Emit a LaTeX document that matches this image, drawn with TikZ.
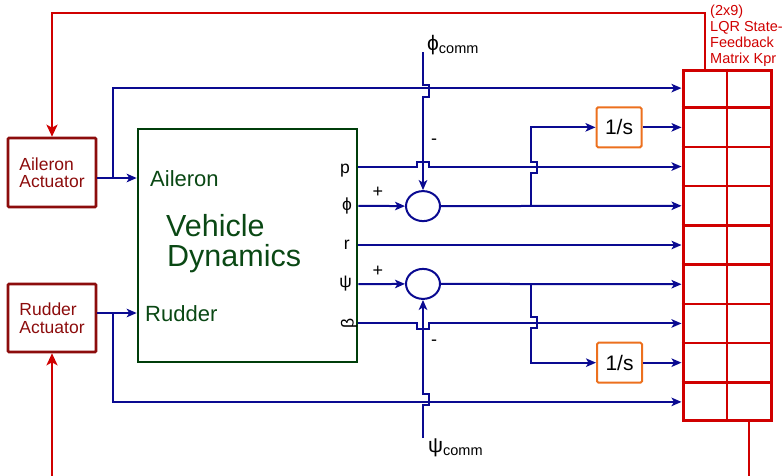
\documentclass[tikz,border=0pt]{standalone}
\usepackage{fontspec}
\setmainfont{Liberation Sans}
\usetikzlibrary{arrows.meta,shapes.geometric,calc}
\definecolor{sigblue}{RGB}{10,10,145}
\definecolor{vgreen}{RGB}{0,62,10}
\definecolor{vtext}{RGB}{10,72,20}
\definecolor{fbred}{RGB}{208,0,0}
\definecolor{actred}{RGB}{140,12,12}
\definecolor{intorange}{RGB}{236,112,30}
\tikzset{
  sig/.style={draw=sigblue, line width=2pt},
  arr/.style={-{Stealth[length=10pt,width=8.5pt,inset=2.5pt]}},
  fb/.style={draw=fbred, line width=2.6pt},
  fbarr/.style={-{Stealth[length=12pt,width=11pt,inset=3pt]}},
  actbox/.style={draw=actred, line width=2.6pt, rounded corners=1pt, minimum width=88pt,
    text=actred, align=left, inner sep=0pt, font=\fontsize{17.5}{17.5}\selectfont},
  intbox/.style={draw=intorange, fill=white, line width=2pt, rounded corners=1.5pt,
    minimum width=45pt, minimum height=40pt, font=\fontsize{21}{21}\selectfont},
  sumnode/.style={ellipse, draw=sigblue, line width=2pt, minimum width=34pt,
    minimum height=30pt, inner sep=0pt},
  lbl/.style={inner sep=0pt, font=\fontsize{17.5}{17.5}\selectfont},
  sgn/.style={inner sep=0pt, font=\fontsize{18}{18}\selectfont},
  vtxt/.style={inner sep=0pt, text=vtext, anchor=base west}
}
\begin{document}
\begin{tikzpicture}[x=1pt,y=-1pt]
\useasboundingbox (0,0) rectangle (784,475);

% ---- blocks
\node[draw=vgreen, line width=2.6pt, minimum width=219pt, minimum height=233pt] (veh) at (247.5,245.5) {};
\node[vtxt, font=\fontsize{22}{22}\selectfont] (vail) at (150,186) {Aileron};
\node[vtxt, font=\fontsize{22}{22}\selectfont] (vrud) at (145,321) {Rudder};
\node[vtxt, font=\fontsize{30.5}{30.5}\selectfont] (vt1) at (166,236) {Vehicle};
\node[vtxt, font=\fontsize{30.5}{30.5}\selectfont] (vt2) at (167,266) {Dynamics};

\node[actbox, minimum height=69pt] (aa) at (52,172.5) {Aileron\\Actuator};
\node[actbox, minimum height=68pt] (ra) at (52,318) {Rudder\\Actuator};

% state-feedback matrix
\node[draw=fbred, line width=3pt, minimum width=88pt, minimum height=350pt, inner sep=0pt] (K) at (727,245) {};
\foreach \i in {1,...,8}
  \draw[draw=fbred, line width=2.6pt] ($(K.north west)!\i/9!(K.south west)$) -- ($(K.north east)!\i/9!(K.south east)$);
\draw[draw=fbred, line width=2.6pt] (K.north) -- (K.south);
\foreach \i in {1,...,9}
  \coordinate (r\i) at ($(K.north west)!{(\i-0.5)/9}!(K.south west)$);
\node[anchor=north west, align=left, inner sep=0pt, text=fbred, font=\fontsize{14.5}{16}\selectfont] (Klbl) at (710,5)
  {(2x9)\\LQR State-\\Feedback\\Matrix Kpr};

% output labels of the vehicle
\node[lbl, anchor=east] (lp) at (350,170.5) {p};
\node[lbl, anchor=east] (lphi) at (352,205.5) {ϕ};
\node[lbl, anchor=east] (lr) at (350,245) {r};
\node[lbl, anchor=east] (lpsi) at (352,283.5) {ψ};
\node[lbl, rotate=90] (lbeta) at (349,323.5) {β};

% summing junctions, integrators
\node[sumnode] (s1) at (423,206.1) {};
\node[sumnode] (s2) at (423,283.9) {};
\path (r2) ++(-62.5,0) node[intbox] (i1) {1/s};
\path (r8) ++(-62,0) node[intbox] (i2) {1/s};

\node[sgn] (p1) at (378,192) {+};
\node[sgn] (p2) at (378,271) {+};
\node[sgn] (m1) at (434,142) {-};
\node[sgn] (m2) at (434,343) {-};

\node[anchor=base west, inner sep=0pt] (phic) at (427,50)
  {\fontsize{21}{21}\selectfont ϕ\raisebox{-3pt}{\fontsize{14.5}{14.5}\selectfont comm}};
\node[anchor=base west, inner sep=0pt] (psic) at (428,452)
  {\fontsize{21}{21}\selectfont ψ\raisebox{-3pt}{\fontsize{14.5}{14.5}\selectfont comm}};

% ---- coordinates
\coordinate (ain) at (veh.west |- 0,178);
\coordinate (rin) at (veh.west |- 0,313);
\coordinate (ja) at (113,178);
\coordinate (jr) at (113,313);
\coordinate (tA) at (531,206.1);
\coordinate (tB) at (531,283.9);
\coordinate (cA) at (423,52);
\coordinate (cB) at (423,438);
\coordinate (fbL) at (52,478);
\coordinate (fbR) at (749,478);

% ---- actuator outputs
\draw[sig,arr] (aa.east |- ain) -- (ain);
\draw[sig,arr] (ra.east |- rin) -- (rin);
\draw[sig,arr] (ja) |- (r1);
\draw[sig,arr] (jr) |- (r9);

% ---- states
\draw[sig,arr] (veh.east |- r3) -- ++(58.5,0) -- ++(0,-5) -- ++(12,0) -- ++(0,5) -- (r3);
\draw[sig,arr] (veh.east |- r4) -- (s1.west);
\draw[sig,arr] (s1.east) -- (r4);
\draw[sig,arr] (veh.east |- r5) -- (r5);
\draw[sig,arr] (veh.east |- r6) -- (s2.west);
\draw[sig,arr] (s2.east) -- (r6);
\draw[sig,arr] (veh.east |- r7) -- ++(58.5,0) -- ++(0,5.5) -- ++(12,0) -- ++(0,-5.5) -- (r7);

% ---- integrator branches
\draw[sig,arr] (tA) -- ++(0,-33) -- ++(6,0) -- ++(0,-11) -- ++(-6,0) |- (i1.west);
\draw[sig,arr] (tB) -- ++(0,33.4) -- ++(6,0) -- ++(0,11) -- ++(-6,0) |- (i2.west);
\draw[sig,arr] (i1.east) -- (r2);
\draw[sig,arr] (i2.east) -- (r8);

% ---- commands
\draw[sig,arr] (cA) -- ++(0,32.5) -- ++(6,0) -- ++(0,12) -- ++(-6,0) -- (s1.north);
\draw[sig,arr] (cB) -- ++(0,-32.6) -- ++(6,0) -- ++(0,-11) -- ++(-6,0) -- (s2.south);

% ---- feedback
\draw[fb,fbarr] ([xshift=-22pt]K.north) -- ++(0,-55.5) -| (aa.north);
\draw[fb] ([xshift=22pt]K.south) -- (fbR);
\draw[fb,fbarr] (fbL) -- (ra.south);
\end{tikzpicture}
\end{document}
